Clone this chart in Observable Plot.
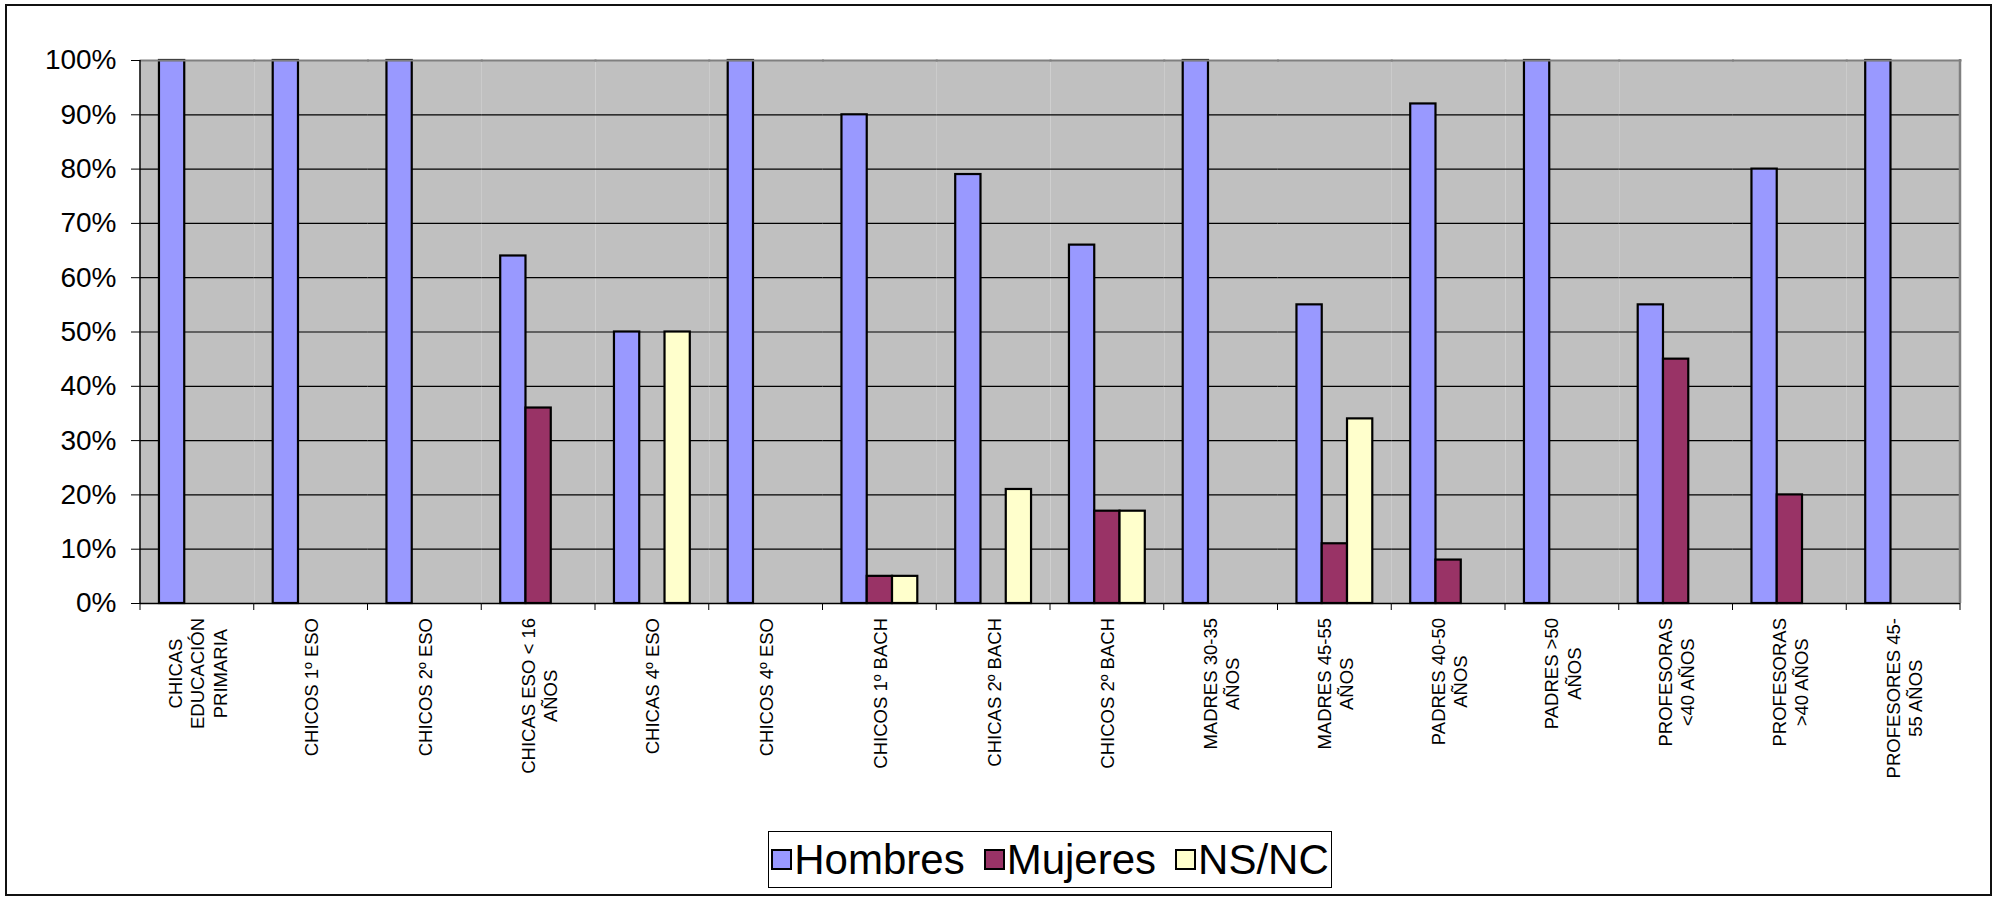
<!DOCTYPE html>
<html>
<head>
<meta charset="utf-8">
<script src="https://cdn.jsdelivr.net/npm/d3@7"></script>
<script src="https://cdn.jsdelivr.net/npm/@observablehq/plot@0.6"></script>
<style>
  html, body { margin: 0; padding: 0; background: #fff; }
  body { width: 1999px; height: 899px; position: relative; overflow: hidden; font-family: "Liberation Sans", Arial, sans-serif; }
  #frame { position: absolute; left: 5px; top: 4px; width: 1987px; height: 892px; border: 2px solid #111; box-sizing: border-box; }
  #chart { position: absolute; left: 0; top: 0; }
  #legend { position: absolute; left: 768px; top: 831px; width: 564px; height: 57px; border: 1.5px solid #000; box-sizing: border-box;
            display: flex; align-items: center; justify-content: center; background: #fff; }
  .item { display: flex; align-items: center; margin-left: 19px; }
  .item:first-child { margin-left: 0; }
  .sw { width: 21px; height: 21px; border: 2px solid #000; box-sizing: border-box; margin-right: 2px; }
  .lab { font-size: 42px; line-height: 1; color: #000; white-space: nowrap; }
</style>
</head>
<body>
<div id="frame"></div>
<div id="chart"></div>
<div id="legend"></div>
<script>
const categories = [
  "CHICAS\nEDUCACIÓN\nPRIMARIA",
  "CHICOS 1º ESO",
  "CHICOS 2º ESO",
  "CHICAS ESO < 16\nAÑOS",
  "CHICAS 4º ESO",
  "CHICOS 4º ESO",
  "CHICOS 1º BACH",
  "CHICAS 2º BACH",
  "CHICOS 2º BACH",
  "MADRES 30-35\nAÑOS",
  "MADRES 45-55\nAÑOS",
  "PADRES 40-50\nAÑOS",
  "PADRES >50\nAÑOS",
  "PROFESORAS\n<40 AÑOS",
  "PROFESORAS\n>40 AÑOS",
  "PROFESORES 45-\n55 AÑOS"
];
const hombres = [100, 100, 100, 64, 50, 100, 90, 79, 66, 100, 55, 92, 100, 55, 80, 100];
const mujeres = [0, 0, 0, 36, 0, 0, 5, 0, 17, 0, 11, 8, 0, 45, 20, 0];
const nsnc    = [0, 0, 0, 0, 50, 0, 5, 21, 17, 0, 34, 0, 0, 0, 0, 0];
const seriesNames = ["Hombres", "Mujeres", "NS/NC"];
const seriesColors = ["#9999FF", "#993366", "#FFFFCC"];
const yTicks = [0, 10, 20, 30, 40, 50, 60, 70, 80, 90, 100];

const seriesValues = [hombres, mujeres, nsnc];
const rows = [];
categories.forEach((c, i) => {
  seriesNames.forEach((s, j) => {
    const v = seriesValues[j][i];
    if (v > 0) rows.push({category: c, series: s, value: v});
  });
});

const chart = Plot.plot({
  width: 1999,
  height: 820,
  marginLeft: 140,
  marginRight: 39,
  marginTop: 60,
  marginBottom: 217,
  style: {fontFamily: "'Liberation Sans', Arial, sans-serif", color: "#000", background: "transparent"},
  fx: {domain: categories, padding: 0, round: false, label: null},
  x: {domain: seriesNames, paddingInner: 0, paddingOuter: 0.75, round: false, axis: null},
  y: {domain: [0, 100], axis: null, label: null},
  color: {domain: seriesNames, range: seriesColors},
  marks: [
    Plot.frame({fill: "#C0C0C0", stroke: "none"}),
    Plot.ruleY(yTicks.filter(v => v > 0 && v < 100), {stroke: "#000", strokeWidth: 1.2}),
    Plot.barY(rows, {fx: "category", x: "series", y: "value", fill: "series", stroke: "#000", strokeWidth: 2.2}),
    Plot.frame({anchor: "top", stroke: "#808080", strokeWidth: 2}),
    Plot.ruleY([0], {stroke: "#000", strokeWidth: 1.5}),
    Plot.axisY({ticks: yTicks, tickFormat: d => d + "%", tickSize: 9, tickPadding: 15, fontSize: 28, label: null}),
    Plot.axisFx({anchor: "bottom", tickSize: 0, tickPadding: 17, tickRotate: -90, fontSize: 18.5, lineHeight: 1.2, label: null})
  ]
});
document.getElementById("chart").append(chart);

// axis lines and category boundary ticks from the library's scales
const fx = chart.scale("fx");
const ys = chart.scale("y");
const svg = d3.select(chart);
const y0 = ys.apply(0), y100 = ys.apply(100);
const bw = fx.bandwidth;
const edges = categories.map(c => fx.apply(c));
edges.push(fx.apply(categories[categories.length - 1]) + bw);
const g = svg.append("g");
g.selectAll("line.tk").data(edges).join("line")
  .attr("x1", d => d).attr("x2", d => d).attr("y1", y0).attr("y2", y0 + 7)
  .attr("stroke", "#000").attr("stroke-width", 1);
g.append("line").attr("x1", edges[0]).attr("x2", edges[0]).attr("y1", y100).attr("y2", y0)
  .attr("stroke", "#000").attr("stroke-width", 1.5);
g.append("line").attr("x1", edges[edges.length - 1]).attr("x2", edges[edges.length - 1]).attr("y1", y100 - 1).attr("y2", y0)
  .attr("stroke", "#808080").attr("stroke-width", 2.5);

// center multi-line category labels on their longest line, and put each label's end just below the axis
const svgTop = chart.getBoundingClientRect().top;
svg.selectAll('g[aria-label="fx-axis tick label"] text').each(function() {
  const tspans = this.querySelectorAll("tspan");
  if (tspans.length > 1) {
    let maxLen = 0;
    tspans.forEach(t => { maxLen = Math.max(maxLen, t.getComputedTextLength()); });
    this.setAttribute("text-anchor", "middle");
    tspans.forEach(t => t.setAttribute("x", -maxLen / 2));
  }
  const top = this.getBoundingClientRect().top - svgTop;
  const shift = (y0 + 15) - top;
  const tr = this.getAttribute("transform") || "";
  this.setAttribute("transform", `translate(0,${shift}) ` + tr);
});

// legend
const legend = d3.select("#legend");
seriesNames.forEach((s, i) => {
  const it = legend.append("div").attr("class", "item");
  it.append("div").attr("class", "sw").style("background", seriesColors[i]);
  it.append("span").attr("class", "lab").text(s);
});
</script>
</body>
</html>
